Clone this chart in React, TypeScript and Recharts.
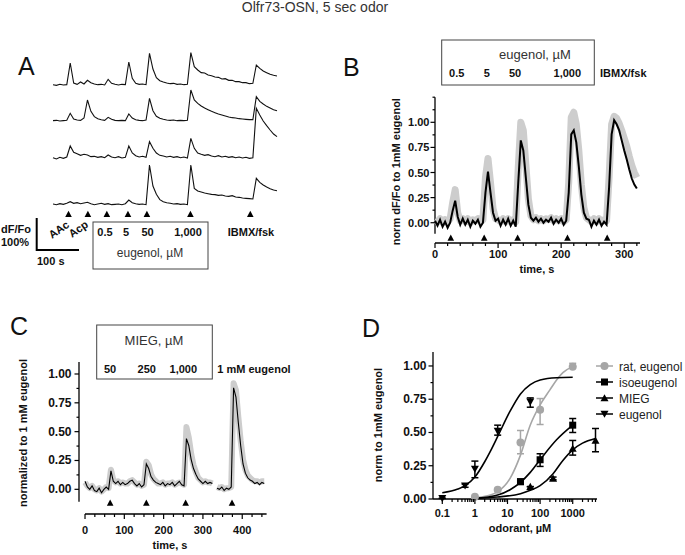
import React from 'react';
import { ComposedChart, Line, Scatter, XAxis, YAxis, ReferenceLine, ErrorBar } from 'recharts';

const FONT = '"Liberation Sans", Arial, Helvetica, sans-serif';
const GREY = '#a6a6a6';
const BAND = '#cdcdcd';

// ---------- A: four single OSNs, dF/Fo in %, one sample every 8 s ----------
const A_STEP = 8;
const traceA1 = [1, -1, 2, 0, 1, 66, 6, 2, 9, 3, 14, 7, 3, 1, 2, 0, 17, 5, 2, 0, 2, 1, 69, 20, 5, 2, 3, 1, 95, 48,
  22, 13, 9, 6, 4, 5, 2, 3, 1, 2, 97, 55, 45, 37, 36, 30, 28, 24, 23, 18, 19, 14, 14, 10, 10, 7, 7, 4, 5, 60,
  50, 42, 37, 32, 29, 27];
const traceA2 = [0, 1, -1, 0, 1, 22, 5, 2, 1, 8, 62, 28, 12, 6, 3, 1, 10, 4, 1, 0, 1, 0, 20, 8, 3, 1, 0, 2, 67, 30,
  13, 7, 4, 2, 1, 2, 0, 1, 0, 1, 92, 62, 52, 44, 38, 33, 28, 24, 20, 17, 14, 11, 9, 8, 6, 5, 4, 3, 3, 72,
  58, 50, 43, 38, 33, 30];
const traceA3 = [2, -2, 3, 0, 4, 37, 18, 14, 9, 12, 10, 5, 6, 3, 5, 2, 10, 4, 2, 5, 1, 3, 37, 16, 8, 4, 6, 3, 50, 30,
  16, 9, 7, 4, 6, 3, 5, 2, 4, 1, 60, 30, 16, 12, 9, 11, 7, 5, 8, 4, 6, 3, 5, 2, 4, 1, 3, 0, 2, 150,
  130, 112, 98, 85, 73, 65];
const traceA4 = [1, -1, 2, 0, 3, 8, 3, 5, 2, 4, 6, 2, -1, 1, 3, 0, 2, -1, 0, 1, -1, 2, 13, 5, 2, 0, 1, -1, 118, 55,
  30, 14, 8, 5, 3, 1, 2, 0, 1, -1, 118, 48, 40, 37, 34, 32, 30, 29, 27, 28, 25, 24, 26, 22, 21, 19, 18, 17, 16, 78,
  66, 58, 52, 47, 43, 41];
const arrowTimesA = [36, 81, 125, 174, 218, 319, 458];

// ---------- B: mean response, normalised, one sample every 4 s ----------
const B_STEP = 4;
const meanB = [0.02, -0.03, 0.03, -0.04, 0.01, -0.05, 0.0, 0.12, 0.22, 0.06,
  -0.02, 0.04, -0.02, 0.03, -0.04, 0.02, -0.01, 0.03, -0.04, 0.0,
  0.3, 0.51, 0.3, 0.1, 0.02, 0.04, -0.03, 0.03, -0.02, 0.04,
  -0.03, 0.02, -0.04, 0.4, 0.82, 0.72, 0.45, 0.18, 0.05, 0.02,
  0.05, 0.01, 0.04, 0.0, 0.03, 0.01, 0.05, -0.01, 0.03, 0.0,
  0.04, -0.02, 0.02, 0.3, 0.88, 0.92, 0.8, 0.56, 0.28, 0.1,
  0.04, 0.03, -0.04, 0.02, -0.02, 0.03, -0.03, 0.01, -0.02, 0.35,
  0.88, 1.02, 0.98, 0.92, 0.82, 0.72, 0.63, 0.53, 0.44, 0.38, 0.34];
const greyB = [0.03, 0.01, 0.04, 0.0, 0.03, 0.01, 0.04, 0.2, 0.33, 0.1,
  0.02, 0.04, 0.01, 0.04, 0.0, 0.03, 0.02, 0.04, 0.01, 0.03,
  0.45, 0.64, 0.4, 0.14, 0.04, 0.03, 0.01, 0.04, 0.01, 0.04,
  0.01, 0.03, 0.01, 0.55, 1.0, 0.92, 0.58, 0.24, 0.07, 0.03,
  0.05, 0.02, 0.04, 0.02, 0.04, 0.03, 0.05, 0.02, 0.04, 0.02,
  0.04, 0.01, 0.03, 0.4, 1.05, 1.1, 0.98, 0.72, 0.38, 0.15,
  0.05, 0.03, 0.01, 0.04, 0.01, 0.04, 0.01, 0.03, 0.02, 0.45,
  0.98, 1.06, 1.04, 0.99, 0.92, 0.84, 0.76, 0.66, 0.57, 0.5, 0.45];
const arrowTimesB = [25, 78, 131, 210, 273];
const ticksBx = [0, 20, 40, 60, 80, 100, 120, 140, 160, 180, 200, 220, 240, 260, 280, 300, 320];
const ticksBy = [0, 0.125, 0.25, 0.375, 0.5, 0.625, 0.75, 0.875, 1, 1.125, 1.25];

// ---------- C: MIEG series, one sample every 6 s ----------
const C_STEP = 6;
const meanC = [0.07, 0.02, 0.0, 0.03, -0.01, -0.02, 0.01, -0.03, 0.0, 0.02,
  0.0, 0.16, 0.07, 0.05, 0.07, 0.04, 0.06, 0.04, 0.05, 0.07,
  0.08, 0.05, 0.03, 0.05, 0.02, 0.04, 0.22, 0.18, 0.11, 0.08,
  0.06, 0.05, 0.04, 0.06, 0.03, 0.05, 0.04, 0.06, 0.03, 0.05,
  0.07, 0.04, 0.03, 0.44, 0.38, 0.26, 0.18, 0.13, 0.09, 0.07,
  0.05, 0.07, 0.05, 0.06, 0.05, null, 0.01, 0.0, 0.02, -0.01,
  0.01, 0.0, 0.02, 0.88, 0.8, 0.58, 0.38, 0.22, 0.14, 0.1,
  0.08, 0.07, 0.05, 0.06, 0.04, 0.06, 0.05];
const greyC = [0.06, 0.03, 0.01, 0.03, 0.0, -0.01, 0.01, -0.02, 0.0, 0.02,
  0.01, 0.17, 0.08, 0.06, 0.07, 0.05, 0.06, 0.05, 0.05, 0.07,
  0.08, 0.06, 0.04, 0.05, 0.03, 0.04, 0.24, 0.21, 0.13, 0.09,
  0.07, 0.05, 0.05, 0.06, 0.04, 0.05, 0.05, 0.06, 0.04, 0.05,
  0.06, 0.05, 0.04, 0.54, 0.45, 0.31, 0.21, 0.15, 0.1, 0.08,
  0.06, 0.07, 0.06, 0.06, 0.05, null, 0.02, 0.01, 0.02, 0.0,
  0.01, 0.01, 0.02, 0.92, 0.86, 0.63, 0.42, 0.26, 0.17, 0.12,
  0.1, 0.08, 0.07, 0.07, 0.06, 0.07, 0.07];
const arrowTimesC = [64, 156, 256, 374];
const ticksCx = [0, 25, 50, 75, 100, 125, 150, 175, 200, 225, 250, 275, 300, 325, 350, 375, 400, 425, 450];
const ticksCy = [0, 0.125, 0.25, 0.375, 0.5, 0.625, 0.75, 0.875, 1];

// ---------- D: dose-response ----------
const ratX = [1, 5, 25, 100, 1000];
const ratY = [0.017, 0.07, 0.425, 0.67, 0.995];
const ratLo = [0, 0, 0.085, 0.11, 0];
const ratHi = [0, 0, 0.09, 0.085, 0.025];
const isoX = [25, 100, 1000];
const isoY = [0.13, 0.295, 0.555];
const isoLo = [0.02, 0.05, 0.055];
const isoHi = [0.02, 0.045, 0.05];
const miegX = [50, 250, 1000, 5000];
const miegY = [0.093, 0.155, 0.38, 0.44];
const miegLo = [0, 0.01, 0.05, 0.085];
const miegHi = [0, 0.01, 0.06, 0.09];
const eugX = [0.1, 0.5, 1, 5, 50];
const eugY = [0.005, 0.1, 0.225, 0.51, 0.73];
const eugLo = [0, 0.012, 0.065, 0.03, 0.04];
const eugHi = [0, 0.012, 0.06, 0.045, 0.03];

// fitted curves
const ratFitX = [1, 3, 5, 12, 25, 50, 100, 200, 320, 500, 1000];
const ratFitY = [0.01, 0.03, 0.055, 0.155, 0.33, 0.556, 0.707, 0.82, 0.895, 0.95, 0.995];
const isoFitX = [1, 5, 12, 25, 50, 100, 320, 1000];
const isoFitY = [0.005, 0.03, 0.07, 0.125, 0.2, 0.295, 0.445, 0.555];
const miegFitX = [1, 5, 25, 50, 100, 250, 500, 1000, 2000, 5000];
const miegFitY = [0.005, 0.015, 0.04, 0.065, 0.1, 0.19, 0.29, 0.37, 0.42, 0.455];
const eugFitX = [0.1, 0.3, 0.5, 1, 2, 3, 5, 12, 25, 50, 100, 320, 1000];
const eugFitY = [0.047, 0.075, 0.1, 0.165, 0.28, 0.36, 0.47, 0.66, 0.79, 0.86, 0.895, 0.912, 0.915];

const ticksDx = [0.1, 0.2, 0.3, 0.4, 0.5, 0.6, 0.7, 0.8, 0.9, 1, 2, 3, 4, 5, 6, 7, 8, 9, 10, 20, 30, 40, 50, 60, 70, 80, 90,
  100, 200, 300, 400, 500, 600, 700, 800, 900, 1000, 2000, 3000, 4000, 5000];
const ticksDy = [0, 0.125, 0.25, 0.375, 0.5, 0.625, 0.75, 0.875, 1];
const legendD = ['rat, eugenol', 'isoeugenol', 'MIEG', 'eugenol'];

// ---------- helpers ----------
const isQuarter = (v: number) => Math.abs(v * 4 - Math.round(v * 4)) < 1e-6;
const isDecade = (v: number) => Math.abs(Math.log10(v) - Math.round(Math.log10(v))) < 1e-6;

// labelled ticks only at 0.00 .. 1.00 in quarters
const makeYTick = (gap: number, size: number) => (p: any) => {
  const { x, y, payload } = p;
  const major = isQuarter(payload.value) && payload.value <= 1;
  return (
    <g>
      <line x1={x - (major ? 4.5 : 2.5)} x2={x} y1={y} y2={y} stroke="#000" strokeWidth={1.2} />
      {major && (
        <text x={x - gap} y={y + 4} textAnchor="end" fontSize={size} fontWeight={700} fontFamily={FONT} fill="#111">
          {payload.value.toFixed(2)}
        </text>
      )}
    </g>
  );
};

const makeXTick = (dy: number, isMajor: (v: number) => boolean) => (p: any) => {
  const { x, y, payload } = p;
  const major = isMajor(payload.value);
  return (
    <g>
      <line x1={x} x2={x} y1={y} y2={y + (major ? 5 : 3)} stroke="#000" strokeWidth={1.2} />
      {major && (
        <text x={x} y={y + dy} textAnchor="middle" fontSize={11} fontWeight={700} fontFamily={FONT} fill="#111">
          {String(payload.value)}
        </text>
      )}
    </g>
  );
};

const Arrow = (p: any) => (
  <polygon points={`${p.cx - 3.3},${p.cy + 3} ${p.cx + 3.3},${p.cy + 3} ${p.cx},${p.cy - 3.2}`} fill="#000" />
);

const drawMarker = (kind: string, cx: number, cy: number) => {
  if (kind === 'circle') return <circle cx={cx} cy={cy} r={4} fill={GREY} />;
  if (kind === 'square') return <rect x={cx - 3.5} y={cy - 3.5} width={7} height={7} fill="#000" />;
  if (kind === 'up') return <polygon points={`${cx - 4},${cy + 3.3} ${cx + 4},${cy + 3.3} ${cx},${cy - 3.8}`} fill="#000" />;
  return <polygon points={`${cx - 4},${cy - 3.3} ${cx + 4},${cy - 3.3} ${cx},${cy + 3.8}`} fill="#000" />;
};
const seriesD = [
  { kind: 'circle', color: GREY },
  { kind: 'square', color: '#000' },
  { kind: 'up', color: '#000' },
  { kind: 'down', color: '#000' },
];

const pts = (xs: number[], ys: number[], lo: number[], hi: number[]) =>
  xs.map((x, i) => ({ x, y: ys[i], e: [lo[i], hi[i]] }));
const curve = (xs: number[], ys: number[]) => xs.map((x, i) => ({ x, y: ys[i] }));

// ---------- panels ----------
const A_OFFSET = [405, 298, 185, 47]; // stacking of the four cells
const dataA = traceA1.map((v, i) => ({
  t: i * A_STEP,
  c1: v + A_OFFSET[0],
  c2: traceA2[i] + A_OFFSET[1],
  c3: traceA3[i] + A_OFFSET[2],
  c4: traceA4[i] + A_OFFSET[3],
}));

function PanelA() {
  return (
    <ComposedChart width={234} height={190} data={dataA} margin={{ top: 5, right: 5, left: 5, bottom: 5 }}>
      <XAxis dataKey="t" type="number" domain={[0, 520]} hide />
      <YAxis type="number" domain={[0, 540]} hide />
      {['c1', 'c2', 'c3', 'c4'].map(k => (
        <Line key={k} dataKey={k} type="linear" stroke="#111" strokeWidth={1.1} dot={false} isAnimationActive={false} />
      ))}
      <Scatter data={arrowTimesA.map(t => ({ t, y: 18 }))} dataKey="y" shape={Arrow} isAnimationActive={false} />
    </ComposedChart>
  );
}

const dataB = meanB.map((v, i) => ({ t: i * B_STEP, mean: v, grey: greyB[i] }));

function PanelB() {
  return (
    <ComposedChart width={270} height={183} data={dataB} margin={{ top: 7, right: 10, left: 0, bottom: 0 }}>
      <XAxis dataKey="t" type="number" domain={[0, 325]} ticks={ticksBx} interval={0} height={30}
        tickSize={0} tickMargin={0} tickLine={false} axisLine={{ stroke: '#000', strokeWidth: 1.3 }}
        tick={makeXTick(15, v => v % 100 === 0)} />
      <YAxis type="number" domain={[-0.202, 1.252]} ticks={ticksBy} interval={0} width={55}
        tickSize={0} tickMargin={0} tickLine={false} axisLine={false} tick={makeYTick(5.5, 11)} />
      <ReferenceLine segment={[{ x: 0, y: -0.11 }, { x: 0, y: 1.25 }]} stroke="#000" strokeWidth={1.3} ifOverflow="visible" />
      <Line dataKey="grey" type="linear" stroke={BAND} strokeWidth={7} strokeLinejoin="round" dot={false} isAnimationActive={false} />
      <Line dataKey="mean" type="linear" stroke="#000" strokeWidth={2} dot={false} isAnimationActive={false} />
      <Scatter data={arrowTimesB.map(t => ({ t, y: -0.149 }))} dataKey="y" shape={Arrow} isAnimationActive={false} />
    </ComposedChart>
  );
}

const dataC = meanC.map((v, i) => ({ t: i * C_STEP, mean: v, grey: greyC[i] }));

function PanelC() {
  return (
    <ComposedChart width={257} height={189} data={dataC} margin={{ top: 7, right: 10, left: 0, bottom: 0 }}>
      <XAxis dataKey="t" type="number" domain={[-15.3, 463]} ticks={ticksCx} interval={0} height={30}
        tickSize={0} tickMargin={0} tickLine={false} axisLine={false}
        tick={makeXTick(20, v => v % 100 === 0)} />
      <YAxis type="number" domain={[-0.214, 1.104]} ticks={ticksCy} interval={0} width={59}
        tickSize={0} tickMargin={0} tickLine={false} axisLine={false} tick={makeYTick(7.5, 12)} />
      <ReferenceLine segment={[{ x: -15.3, y: -0.107 }, { x: -15.3, y: 1.104 }]} stroke="#000" strokeWidth={1.3} ifOverflow="visible" />
      <ReferenceLine segment={[{ x: 0, y: -0.214 }, { x: 462, y: -0.214 }]} stroke="#000" strokeWidth={1.3} ifOverflow="visible" />
      <Line dataKey="grey" type="linear" stroke={BAND} strokeWidth={6} strokeLinejoin="round" dot={false} isAnimationActive={false} />
      <Line dataKey="mean" type="linear" stroke="#000" strokeWidth={1.1} dot={false} isAnimationActive={false} />
      <Scatter data={arrowTimesC.map(t => ({ t, y: -0.116 }))} dataKey="y" shape={Arrow} isAnimationActive={false} />
    </ComposedChart>
  );
}

const ptsD = [
  pts(ratX, ratY, ratLo, ratHi),
  pts(isoX, isoY, isoLo, isoHi),
  pts(miegX, miegY, miegLo, miegHi),
  pts(eugX, eugY, eugLo, eugHi),
];
const fitsD = [
  curve(ratFitX, ratFitY),
  curve(isoFitX, isoFitY),
  curve(miegFitX, miegFitY),
  curve(eugFitX, eugFitY),
];

function PanelD() {
  return (
    <ComposedChart width={237} height={184} margin={{ top: 7, right: 10, left: 0, bottom: 0 }}>
      <XAxis dataKey="x" type="number" scale="log" domain={[0.0519, 5559]} ticks={ticksDx} interval={0} height={30}
        tickSize={0} tickMargin={0} tickLine={false} axisLine={{ stroke: '#000', strokeWidth: 1.3 }}
        tick={makeXTick(17.5, isDecade)} />
      <YAxis type="number" domain={[0, 1.105]} ticks={ticksDy} interval={0} width={63}
        tickSize={0} tickMargin={0} tickLine={false} axisLine={{ stroke: '#000', strokeWidth: 1.3 }}
        tick={makeYTick(6.5, 12)} />
      {fitsD.map((d, i) => (
        <Line key={'f' + i} data={d} dataKey="y" type="monotone" stroke={seriesD[i].color} strokeWidth={1.6}
          dot={false} isAnimationActive={false} />
      ))}
      {ptsD.map((d, i) => (
        <Scatter key={'p' + i} data={d} dataKey="y" isAnimationActive={false}
          shape={(p: any) => drawMarker(seriesD[i].kind, p.cx, p.cy)}>
          <ErrorBar dataKey="e" direction="y" width={3.5} stroke={seriesD[i].color} strokeWidth={1.5} />
        </Scatter>
      ))}
    </ComposedChart>
  );
}

function Txt({ x, y, children, size = 11, bold = true, anchor = 'middle', rotate = 0, fill = '#111' }: any) {
  return (
    <text x={x} y={y} fontSize={size} fontWeight={bold ? 700 : 400} textAnchor={anchor} fill={fill} fontFamily={FONT}
      transform={rotate ? `rotate(${rotate} ${x} ${y})` : undefined}>
      {children}
    </text>
  );
}

export default function App() {
  return (
    <div style={{ position: 'absolute', left: 0, top: 0, width: 685, height: 555, background: '#fff', overflow: 'hidden' }}>
      <div style={{ position: 'absolute', left: 48, top: 35 }}><PanelA /></div>
      <div style={{ position: 'absolute', left: 380, top: 90 }}><PanelB /></div>
      <div style={{ position: 'absolute', left: 20, top: 355 }}><PanelC /></div>
      <div style={{ position: 'absolute', left: 370, top: 345 }}><PanelD /></div>

      <svg width={685} height={555} style={{ position: 'absolute', left: 0, top: 0, pointerEvents: 'none' }}>
        <Txt x={315} y={12} size={14} bold={false} fill="#333">Olfr73-OSN, 5 sec odor</Txt>

        <Txt x={18} y={75} size={25} bold={false} anchor="start" fill="#111">A</Txt>
        <Txt x={343} y={76} size={25} bold={false} anchor="start" fill="#111">B</Txt>
        <Txt x={10} y={335} size={25} bold={false} anchor="start" fill="#111">C</Txt>
        <Txt x={362} y={337} size={25} bold={false} anchor="start" fill="#111">D</Txt>

        {/* panel A annotations */}
        <Txt x={1} y={233} anchor="start">dF/Fo</Txt>
        <Txt x={1} y={245.5} anchor="start">100%</Txt>
        <path d="M36.7 218 V250 H79" fill="none" stroke="#000" strokeWidth={2} />
        <Txt x={37} y={265} anchor="start">100 s</Txt>
        <Txt x={52} y={239} anchor="start" rotate={-35}>AAc</Txt>
        <Txt x={72} y={238} anchor="start" rotate={-35}>Acp</Txt>
        <rect x={93} y={222} width={115} height={47} fill="none" stroke="#444" strokeWidth={1} />
        <Txt x={105} y={236}>0.5</Txt>
        <Txt x={126} y={236}>5</Txt>
        <Txt x={147.5} y={236}>50</Txt>
        <Txt x={188} y={236}>1,000</Txt>
        <Txt x={251} y={236}>IBMX/fsk</Txt>
        <Txt x={150} y={257} size={12} bold={false} fill="#333">eugenol, µM</Txt>

        {/* panel B annotations */}
        <rect x={441.7} y={40} width={152.6} height={45} fill="none" stroke="#444" strokeWidth={1} />
        <Txt x={535} y={59} size={13} bold={false} fill="#333">eugenol, µM</Txt>
        <Txt x={456.7} y={77}>0.5</Txt>
        <Txt x={486.7} y={77}>5</Txt>
        <Txt x={515} y={77}>50</Txt>
        <Txt x={567.3} y={77}>1,000</Txt>
        <Txt x={623.3} y={77}>IBMX/fsk</Txt>
        <Txt x={400.5} y={171.7} rotate={-90}>norm dF/Fo to 1mM eugenol</Txt>
        <Txt x={537} y={273}>time, s</Txt>

        {/* panel C annotations */}
        <rect x={96.7} y={325} width={115.6} height={54} fill="none" stroke="#444" strokeWidth={1} />
        <Txt x={154} y={345} size={13} bold={false} fill="#333">MIEG, µM</Txt>
        <Txt x={110} y={373.3}>50</Txt>
        <Txt x={146.7} y={373.3}>250</Txt>
        <Txt x={183.3} y={373.3}>1,000</Txt>
        <Txt x={254} y={373.3}>1 mM eugenol</Txt>
        <Txt x={27} y={433} rotate={-90}>normalized to 1 mM eugenol</Txt>
        <Txt x={170} y={549}>time, s</Txt>

        {/* panel D annotations */}
        <Txt x={382} y={425} rotate={-90}>norm to 1mM eugenol</Txt>
        <Txt x={520} y={532}>odorant, µM</Txt>
        {legendD.map((name, i) => {
          const cy = 366 + i * 16;
          return (
            <g key={name}>
              <line x1={596} x2={613} y1={cy} y2={cy} stroke={seriesD[i].color} strokeWidth={1.5} />
              {drawMarker(seriesD[i].kind, 604.5, cy)}
              <Txt x={619} y={cy + 4.5} size={12} bold={false} anchor="start" fill="#222">{name}</Txt>
            </g>
          );
        })}
      </svg>
    </div>
  );
}
